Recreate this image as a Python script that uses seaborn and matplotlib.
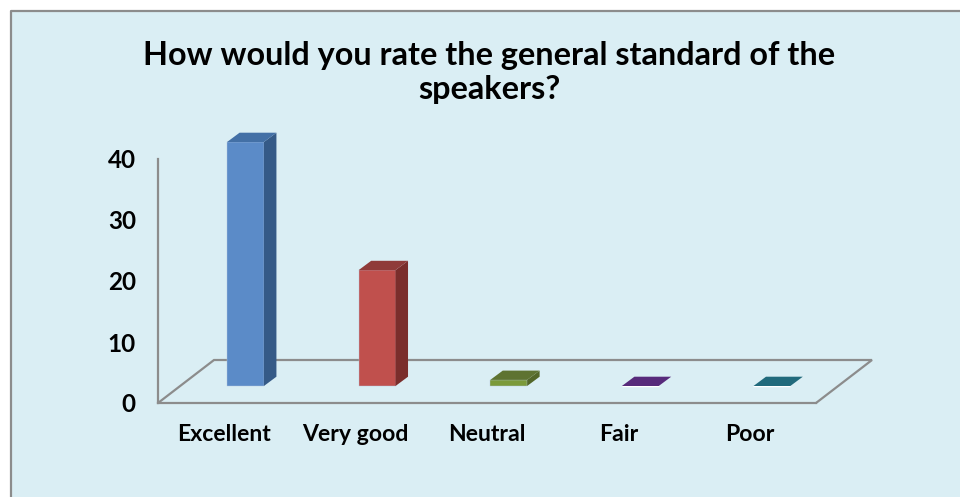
import matplotlib
matplotlib.use("Agg")
import pandas as pd
import seaborn as sns
from matplotlib import pyplot as plt
from matplotlib.patches import Polygon, Rectangle
from matplotlib.lines import Line2D

categories = ["Excellent", "Very good", "Neutral", "Fair", "Poor"]
responses = [40, 19, 1, 0, 0]
y_ticks = [0, 10, 20, 30, 40]
title = "How would you rate the general standard of the\nspeakers?"

front_colors = ["#5B8BC8", "#C0504D", "#7B9A3A", "#5F3285", "#25707F"]
top_colors = ["#4370A6", "#8F3B39", "#5E7331", "#572A7B", "#216A7C"]
side_colors = ["#355A87", "#7A2E2C", "#536729", "#47226A", "#1B5563"]

W, H = 960, 497
GREY = "#8C8C8C"

sns.set_theme(style="white")
plt.rcParams["font.family"] = ["Lato", "DejaVu Sans"]
plt.rcParams["font.weight"] = "bold"


def px_axes(fig, left, right, top, bottom):
	# axes placed by pixel edges, y counted from the top of the image
	ax = fig.add_axes([left / W, 1 - bottom / H, (right - left) / W, (bottom - top) / H])
	ax.patch.set_alpha(0)
	return ax


fig = plt.figure(figsize=(W / 100, H / 100), dpi=100, facecolor="white")
fig.add_artist(Rectangle((11 / W, 0), 1, 1 - 11 / H, transform=fig.transFigure,
						 facecolor="#DAEEF4", edgecolor="none", zorder=-2))
fig.add_artist(Line2D([10.5 / W, 10.5 / W, 1], [0, 1 - 10.5 / H, 1 - 10.5 / H],
					  transform=fig.transFigure, color=GREY, lw=1.6, zorder=-1))

# wall and floor
wall = px_axes(fig, 158, 816, 159, 403)
wall.set_xlim(-0.5, 4.5)
wall.set_ylim(0, 40)
sns.despine(ax=wall)
for side in ["left", "bottom"]:
	wall.spines[side].set_color(GREY)
	wall.spines[side].set_linewidth(1.6)
wall.set_yticks(y_ticks)
wall.set_yticklabels(y_ticks, fontsize=17.5, fontweight="bold", color="black")
wall.set_xticks(range(len(categories)))
wall.set_xticklabels(categories, fontsize=16.6, fontweight="bold", color="black")
wall.tick_params(axis="y", length=0, pad=16)
wall.tick_params(axis="x", length=0, pad=15)

floor_dx = 56 / 131.6
floor_dy = 43 / 6.1
wall.plot([-0.5, -0.5 + floor_dx, 4.5 + floor_dx, 4.5], [0, floor_dy, floor_dy, 0],
		  color=GREY, lw=1.6, clip_on=False, solid_joinstyle="miter")

# bars sit part way back on the floor
bars = px_axes(fig, 179.7, 837.7, 142, 386)
df = pd.DataFrame({"category": categories, "responses": responses})
sns.barplot(data=df, x="category", y="responses", hue="category", palette=front_colors,
			order=categories, hue_order=categories, dodge=False, legend=False,
			width=0.28, saturation=1, ax=bars)
bars.set_xlim(-0.5, 4.5)
bars.set_ylim(0, 40)
bars.axis("off")

depth_x = 12.5 / 131.6
depth_y = 9.3 / 6.1
for patch, top_c, side_c in zip(list(bars.patches), top_colors, side_colors):
	x0, x1 = patch.get_x(), patch.get_x() + patch.get_width()
	h = patch.get_height()
	if h > 0:
		bars.add_patch(Polygon([(x1, 0), (x1 + depth_x, depth_y), (x1 + depth_x, h + depth_y), (x1, h)],
							   facecolor=side_c, edgecolor="none", clip_on=False))
		patch.set_edgecolor("#B4C6DC")
		patch.set_linewidth(0.3)
	patch.set_clip_on(False)
	bars.add_patch(Polygon([(x0, h), (x1, h), (x1 + depth_x, h + depth_y), (x0 + depth_x, h + depth_y)],
						   facecolor=top_c, edgecolor="none", clip_on=False))

fig.text(489.5 / W, 1 - 72.5 / H, title, ha="center", va="center", fontsize=23.3,
		 fontweight="bold", color="black", linespacing=1.18)

fig.savefig("out.png", dpi=100)
